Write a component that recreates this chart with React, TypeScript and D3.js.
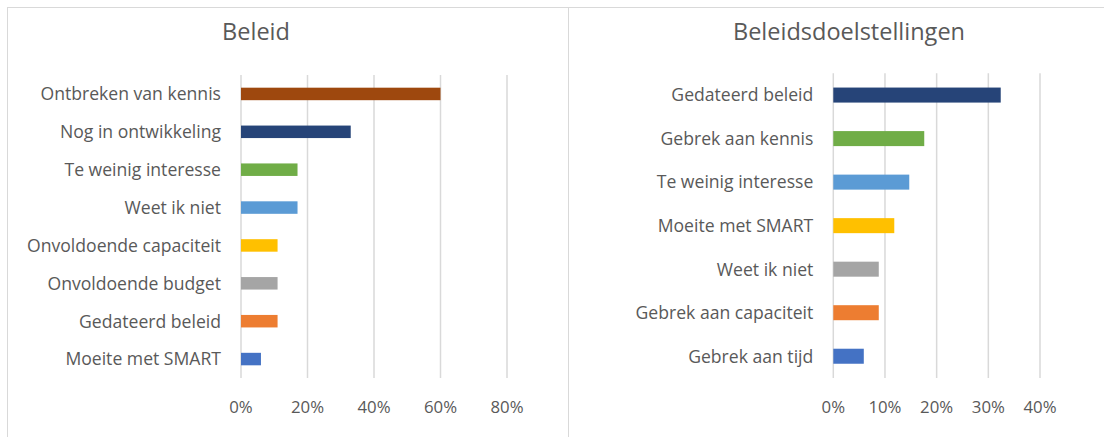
import React from "react";
import * as d3 from "d3";

const leftTitle = "Beleid";
const leftCategories = [
  "Ontbreken van kennis",
  "Nog in ontwikkeling",
  "Te weinig interesse",
  "Weet ik niet",
  "Onvoldoende capaciteit",
  "Onvoldoende budget",
  "Gedateerd beleid",
  "Moeite met SMART",
];
const leftValues = [0.6, 0.33, 0.17, 0.17, 0.11, 0.11, 0.11, 0.06];
const leftColors = ["#9E480E", "#264478", "#70AD47", "#5B9BD5", "#FFC000", "#A5A5A5", "#ED7D31", "#4472C4"];
const leftTicks = [0, 0.2, 0.4, 0.6, 0.8];

const rightTitle = "Beleidsdoelstellingen";
const rightCategories = [
  "Gedateerd beleid",
  "Gebrek aan kennis",
  "Te weinig interesse",
  "Moeite met SMART",
  "Weet ik niet",
  "Gebrek aan capaciteit",
  "Gebrek aan tijd",
];
const rightValues = [0.324, 0.176, 0.147, 0.118, 0.088, 0.088, 0.059];
const rightColors = ["#264478", "#70AD47", "#5B9BD5", "#FFC000", "#A5A5A5", "#ED7D31", "#4472C4"];
const rightTicks = [0, 0.1, 0.2, 0.3, 0.4];

const FONT = "'Open Sans', sans-serif";
const TEXT = "#595959";
const GRID = "#D9D9D9";

type PanelProps = {
  title: string;
  titleX: number;
  categories: string[];
  values: number[];
  colors: string[];
  ticks: number[];
  xRange: [number, number];
  yRange: [number, number];
  padding: number;
};

function Panel(p: PanelProps) {
  const x = d3.scaleLinear().domain([p.ticks[0], p.ticks[p.ticks.length - 1]]).range(p.xRange);
  const y = d3
    .scaleBand<string>()
    .domain(p.categories)
    .range(p.yRange)
    .paddingInner(p.padding)
    .paddingOuter(p.padding / 2);
  const fmt = d3.format(".0%");
  return (
    <g>
      <text x={p.titleX} y={39.5} textAnchor="middle" fontFamily={FONT} fontSize={23.5} fill={TEXT}>
        {p.title}
      </text>
      {p.ticks.map((t) => (
        <g key={t}>
          <line x1={x(t)} x2={x(t)} y1={p.yRange[0]} y2={p.yRange[1]} stroke={GRID} strokeWidth={1.5} />
          <text x={x(t)} y={412.5} textAnchor="middle" fontFamily={FONT} fontSize={16.8} fill={TEXT}>
            {fmt(t)}
          </text>
        </g>
      ))}
      {p.categories.map((c, i) => (
        <g key={c}>
          <rect
            x={x(0)}
            y={y(c)!}
            width={x(p.values[i]) - x(0)}
            height={y.bandwidth()}
            fill={p.colors[i]}
          />
          <text
            x={x(0) - 20}
            y={y(c)! + y.bandwidth() / 2}
            dy="0.36em"
            textAnchor="end"
            fontFamily={FONT}
            fontSize={17.6}
            fill={TEXT}
          >
            {c}
          </text>
        </g>
      ))}
    </g>
  );
}

export default function App() {
  return (
    <div style={{ position: "absolute", left: 0, top: 0 }}>
      <svg width={1104} height={437} style={{ display: "block", background: "#fff" }}>
        <rect x={0} y={0} width={1104} height={437} fill="#fff" />
        <line x1={7} x2={1104} y1={7.5} y2={7.5} stroke={GRID} strokeWidth={1} />
        <line x1={7.5} x2={7.5} y1={7} y2={437} stroke={GRID} strokeWidth={1} />
        <line x1={568.5} x2={568.5} y1={7} y2={437} stroke={GRID} strokeWidth={1} />
        <Panel
          title={leftTitle}
          titleX={256}
          categories={leftCategories}
          values={leftValues}
          colors={leftColors}
          ticks={leftTicks}
          xRange={[241, 507]}
          yRange={[75, 378]}
          padding={0.67}
        />
        <Panel
          title={rightTitle}
          titleX={849}
          categories={rightCategories}
          values={rightValues}
          colors={rightColors}
          ticks={rightTicks}
          xRange={[833.3, 1040]}
          yRange={[73.3, 378]}
          padding={0.655}
        />
      </svg>
    </div>
  );
}
